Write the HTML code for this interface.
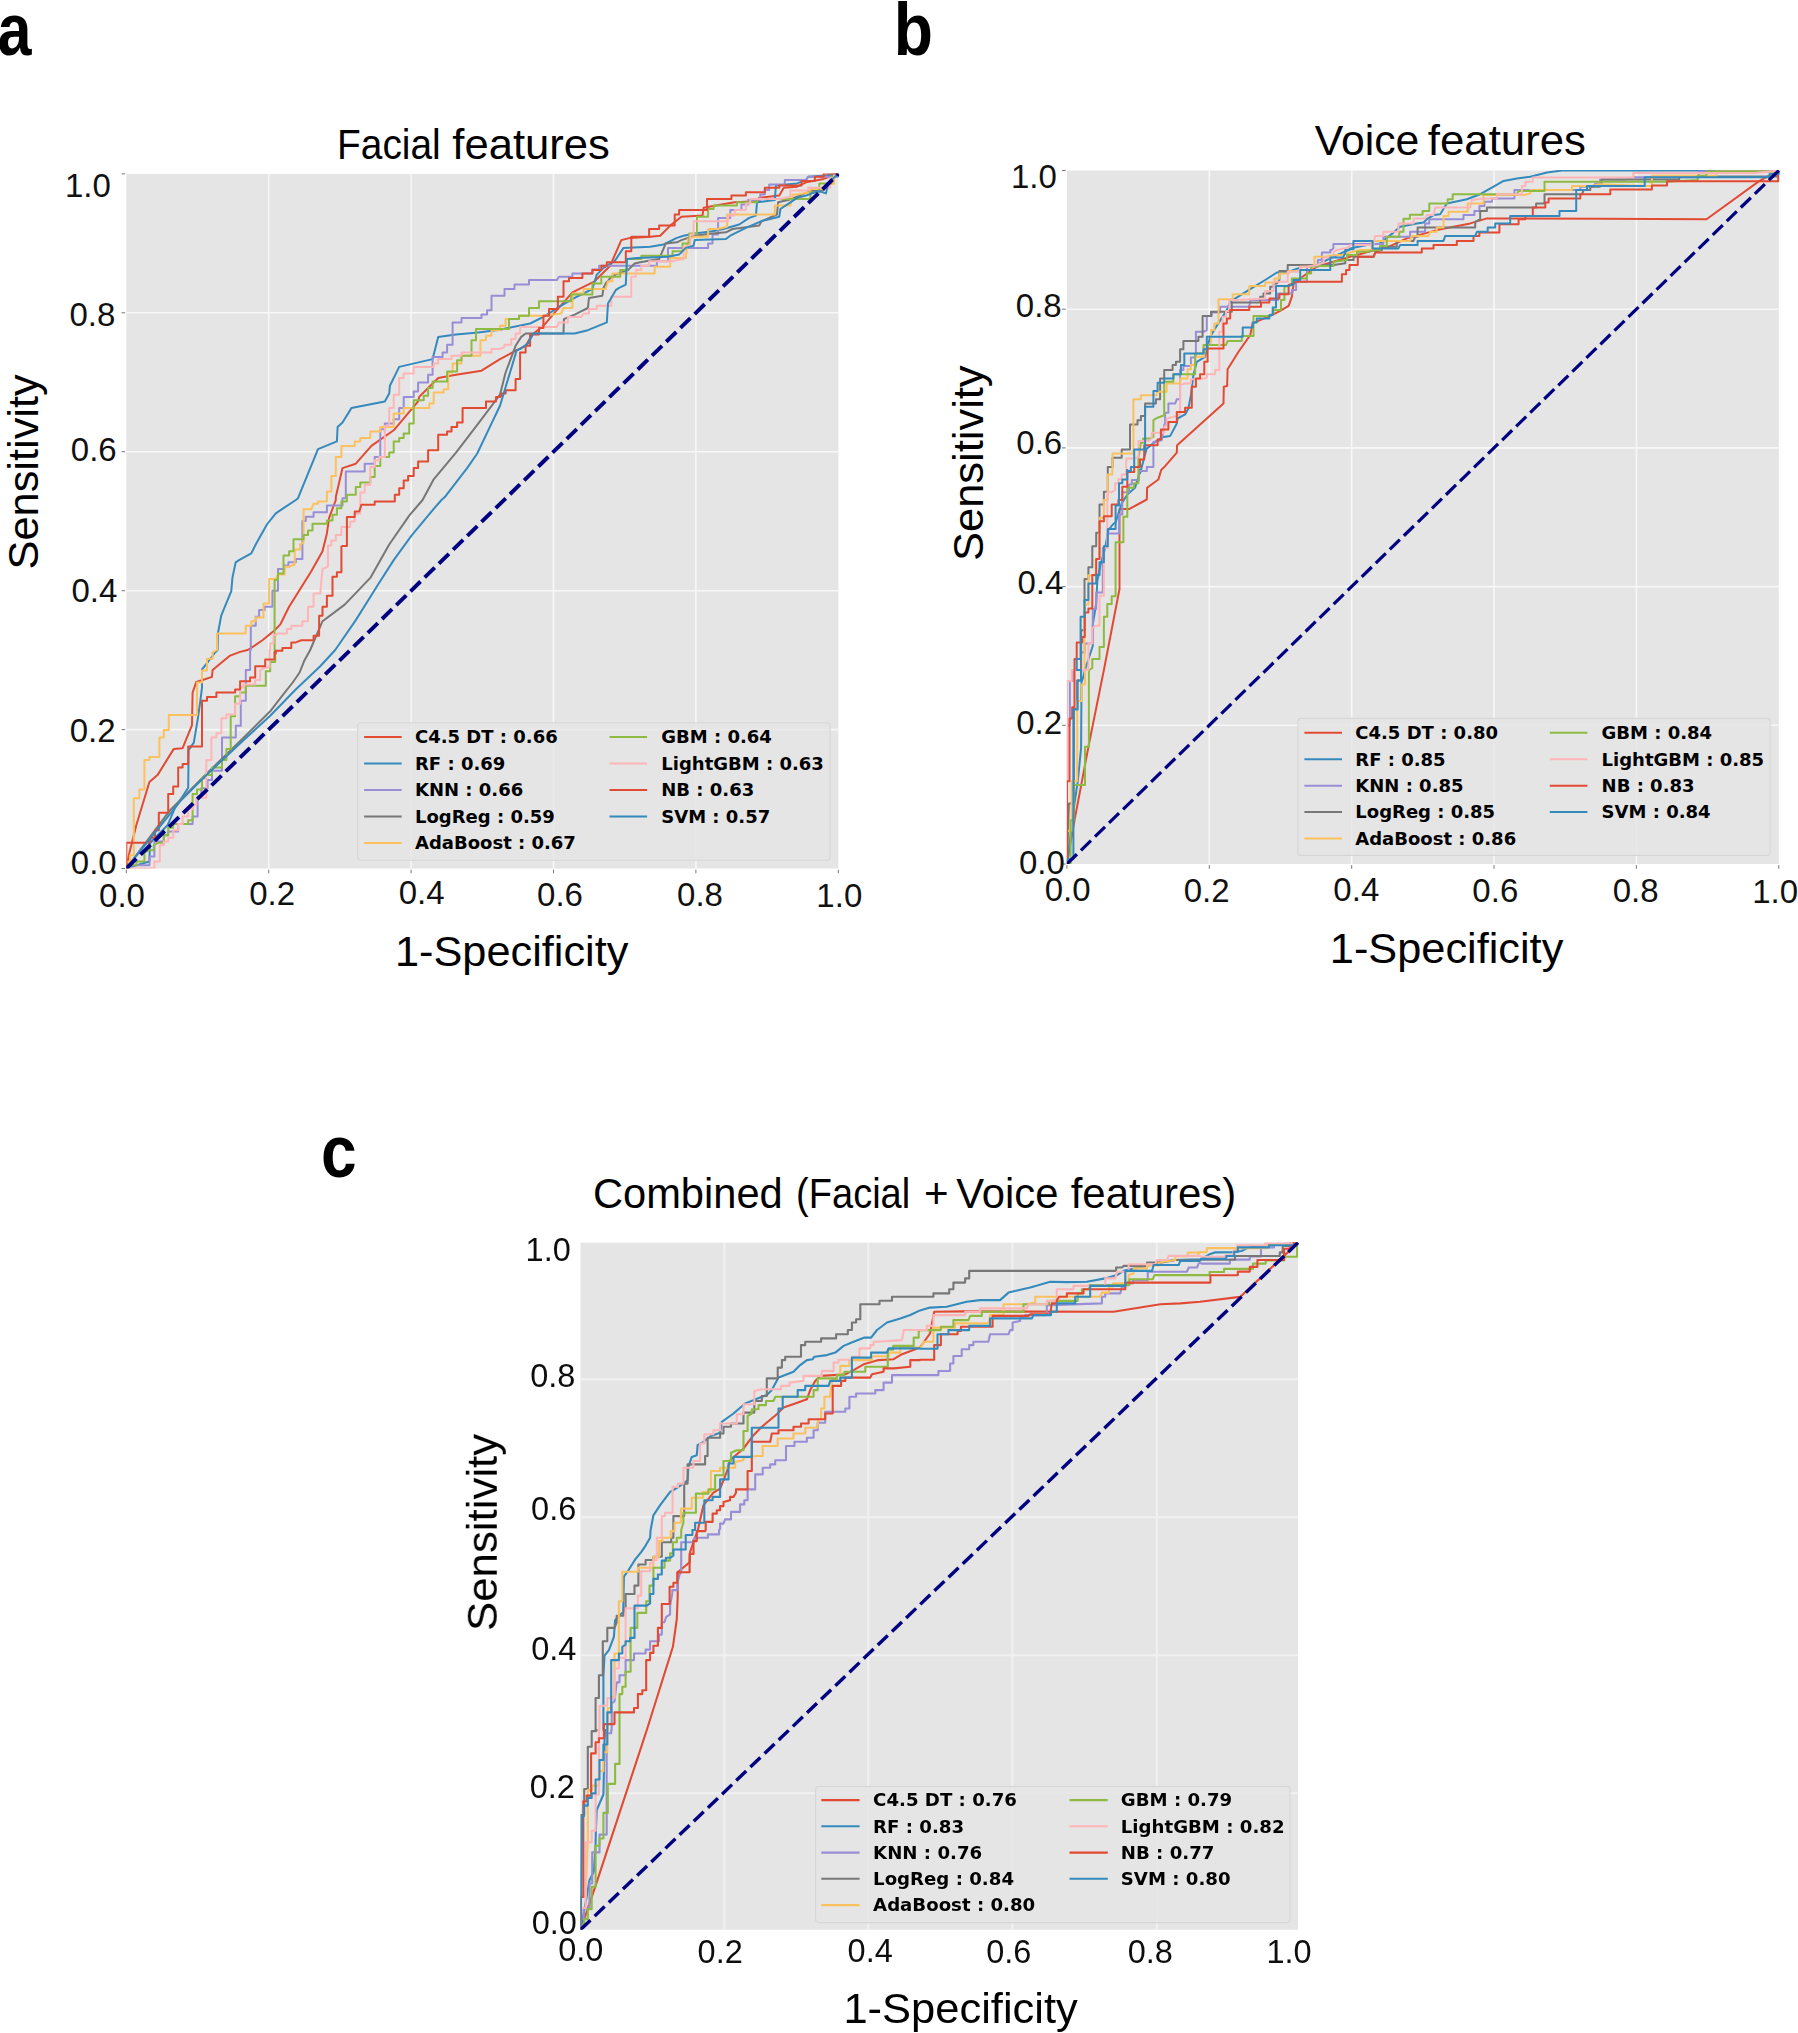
<!DOCTYPE html>
<html lang="en"><head><meta charset="utf-8"><title>ROC curves: facial, voice and combined features</title>
<style>html,body{margin:0;padding:0;background:#fff}body{width:1798px;height:2033px;overflow:hidden}svg{display:block}</style>
</head><body>
<svg width="1798" height="2033" viewBox="0 0 1798 2033">
<defs>
<clipPath id="cpa"><rect x="126.3" y="173.5" width="713" height="695"/></clipPath>
<clipPath id="cpb"><rect x="1066.9" y="170.1" width="712.9" height="693.9"/></clipPath>
<clipPath id="cpc"><rect x="580.5" y="1242.3" width="718.5" height="687.4"/></clipPath>
<filter id="soft" filterUnits="userSpaceOnUse" x="430" y="1215" width="920" height="818"><feGaussianBlur stdDeviation="0.55"/></filter>
</defs>
<rect width="1798" height="2033" fill="#fff"/>
<g id="panel-a">
<rect x="126.3" y="173.9" width="712" height="694.6" fill="#E5E5E5"/>
<path d="M268.7 173.9V868.5 M411.1 173.9V868.5 M553.5 173.9V868.5 M695.9 173.9V868.5 M126.3 729.6H838.3 M126.3 590.7H838.3 M126.3 451.7H838.3 M126.3 312.8H838.3" stroke="#f7f7f7" stroke-width="1.6" fill="none"/>
<path d="M126.3 869.7v3.6 M125.1 868.5h-3.6 M268.7 869.7v3.6 M125.1 729.6h-3.6 M411.1 869.7v3.6 M125.1 590.7h-3.6 M553.5 869.7v3.6 M125.1 451.7h-3.6 M695.9 869.7v3.6 M125.1 312.8h-3.6 M838.3 869.7v3.6 M125.1 173.9h-3.6" stroke="#777" stroke-width="1" fill="none"/>
<g clip-path="url(#cpa)" fill="none" stroke-linejoin="round" stroke-linecap="butt" stroke-width="2">
<path d="M126.3,868.4 129.4,852.7 136.3,825.2 149.4,782 157.5,775.1 173.8,748.9 182.6,748.2 192,725.1 192.6,692.5 196.3,681.9 202.6,680 212,676.9 212.6,670 220.1,663.8 230.1,655.6 240.1,651.9 247.6,650 251.3,647.9 262.4,640.2 273.5,631.3 280.2,624.6 289.1,606.8 300.2,589 311.3,571.2 322.5,551.2 326.9,533.4 329.1,517.8 335.8,500 335.8,497.1 342.5,468.1 355.8,463.7 371.4,445.9 393.7,430.3 418.1,401.4 419.2,396.9 438.2,378 456,374.7 481.5,370.7 500,359.1 516.7,350.2 525.6,345.8 532.3,334.6 543.4,325.8 556.8,310.2 572.4,292.4 594.6,281.3 610.2,265.7 621.3,240.1 630.2,237.9 650.2,236.8 660.2,235.7 670.2,225.6 681.4,216.7 702.5,215.6 703.6,207.8 721.4,204.5 734.8,202.3 757,201.2 759.2,197.8 779.3,195.6 783.7,187.8 797.1,186.7 806,182.3 823.7,178.9 838.2,173.4" stroke="#E24A33"/>
<path d="M126.3,868.4 145,862.7 149.4,861.5 150,843.3 157.5,835.2 167.6,825.2 175.1,807.7 188.2,787.7 188.6,750.1 193.8,742.6 197.6,720.1 200.1,702.6 202,687.5 202,669.4 207.6,662.5 215.1,652.5 217.6,650 217.9,633.5 221.2,615.7 225.7,604.6 231.3,591.2 232.4,577.9 235.7,562.3 239,560.1 251.3,553.4 255.7,544.5 266.9,524.5 275.8,513.3 282.4,508.9 295.8,500 298,498.2 318,449.2 336.9,441.4 337.6,427 342.5,422.5 351.4,408.1 384.8,401.4 389.2,393.6 389.9,385.8 399.2,366.9 432.6,359.1 438.2,336.9 456,334.6 478.2,332.4 500,329.8 507.8,328 530.1,323.5 543.4,316.9 561.2,305.7 574.6,297.9 592.4,289 596.8,274.6 603.5,267.9 614.6,261.2 623.5,247.9 650.2,246.8 663.6,244.5 676.9,237.9 683.6,235.7 694.7,233.4 712.5,231.2 723.6,229 739.2,224.5 749.2,217.9 755.9,215.6 757,202.3 774.8,200.1 775.9,185.6 797.1,183.4 806,180 808.2,176.7 826,175.6 838.2,173.4" stroke="#348ABD"/>
<path d="M126.3,868.4 126.3,865.2 136.3,865.2 149.4,865.2 149.4,856.5 154.4,856.5 154.4,841.5 163.8,841.5 163.8,835.2 168.2,835.2 168.2,831.5 178.2,831.5 178.2,823.9 192.6,823.9 192.6,816.4 197.6,816.4 197.6,805.2 197.6,796.4 201.3,796.4 201.3,788.3 204.5,788.3 207.6,788.3 207.6,780.1 212,780.1 212,770.8 222,770.8 222,737.6 235.8,737.6 235.8,725.7 240.8,725.7 240.8,700.7 245.8,700.7 245.8,670 250.1,670 250.1,650 250.8,649.9 250.8,625.7 255.7,625.7 255.7,616.8 259.1,616.8 259.1,610.1 264.6,610.1 264.6,606.8 272.4,606.8 272.4,590.7 275.2,590.7 278,590.7 278,574.5 278,569 284.6,569 284.6,565.6 288.4,565.6 288.4,562.3 292.1,562.3 295.8,562.3 295.8,559 302.4,559 302.4,552.3 302.4,521.1 305.8,521.1 305.8,516.7 313.6,516.7 313.6,512.2 326.9,512.2 326.9,505.6 342.5,505.6 342.5,500 342.5,498.2 345.8,498.2 345.8,471.5 364.7,471.5 364.7,463.7 374.7,463.7 374.7,457 380.3,457 380.3,429.2 384.8,429.2 384.8,423.6 393.7,423.6 393.7,419.2 396.4,419.2 399.2,419.2 399.2,414.7 399.2,408.1 403.7,408.1 403.7,396.9 413.7,396.9 413.7,391.4 418.1,391.4 418.1,382.5 428.1,382.5 428.1,374.7 432.6,374.7 432.6,356.9 442.6,356.9 442.6,352.4 447.1,352.4 447.1,344.7 452.6,344.7 452.6,322.4 461.5,322.4 461.5,318 481.5,318 481.5,314.6 487.1,314.6 487.1,310.2 491.5,310.2 491.5,295.7 500,295.7 504.5,295.7 504.5,289 514.5,289 514.5,284.6 529,284.6 529,280.1 556.8,280.1 559,276.8 572.4,276.8 572.4,273.5 592.4,273.5 592.4,269.6 599.1,269.6 599.1,265.7 605.7,265.7 656.9,265.7 656.9,261.2 668,261.2 668,247.9 681.4,247.9 708.1,247.9 708.1,243.4 712.5,243.4 712.5,234.5 718.1,234.5 718.1,217.9 730.3,217.9 730.3,210.1 741.4,210.1 741.4,204.5 748.1,204.5 748.1,200.1 760.3,200.1 760.3,194.5 764.8,194.5 764.8,190 769.2,190 769.2,184.5 784.8,184.5 784.8,180 806,180 808.2,176.7 819.3,176.7 838.2,176.7 838.2,173.4" stroke="#988ED5"/>
<path d="M126.3,868.4 170.1,810.2 207.6,772.6 245.1,736.3 270.2,711.3 282.7,695.1 292.7,682.5 299.6,672.5 304,661.3 310.2,650 322.5,621.2 344.7,604.6 370.3,577.9 389.2,544.5 409.2,515.6 422.6,500 433.7,479.3 456,452.6 478.2,423.6 500,394.7 505.6,372.5 515.6,345.8 521.2,336.9 525.6,333.5 563.5,333.5 563.9,319.1 574.6,314.6 587.9,308 589,297.9 602.4,295.7 603.5,287.9 605.7,283.5 612.4,275.7 628,270.1 634.6,263.5 640.2,262.3 659.1,259 665.8,243.4 676.9,242.3 681.4,240.1 694.7,235.7 712.5,233.4 725.9,232.3 732.5,229 759.2,225.6 761.5,221.2 777,214.5 778.1,202.3 788.2,200.1 810.4,191.2 823.7,190 838.2,173.4" stroke="#777777"/>
<path d="M126.3,868.4 126.3,861.8 130,861.8 130,855.2 133.8,855.2 133.8,798.3 139.4,798.3 139.4,789.5 144.4,789.5 144.4,760.1 149.4,760.1 149.4,757 159.4,757 159.4,737.6 163.8,737.6 163.8,730.1 168.8,730.1 168.8,715.1 197,715.1 197,682.5 202,682.5 202,670.6 207,670.6 207,658.8 212.6,658.8 212.6,652.5 217,650 217,633.5 245.7,633.5 245.7,625.7 251.3,625.7 251.3,621.2 255.7,621.2 255.7,617.5 263.5,617.5 263.5,603.4 269.1,603.4 269.1,579 275.8,579 278,574.5 284.6,574.5 284.6,571.2 284.6,566.7 289.1,566.7 294.7,564.5 294.7,554.5 294.7,549.5 297.4,549.5 300.2,549.5 300.2,544.5 303.6,542.3 303.6,508.9 303.6,509.3 311.3,509.3 313.6,503.7 318,503.7 318,501.5 326.9,501.5 326.9,491.5 331.4,491.5 331.4,475.9 335.8,475.9 335.8,457 341.4,457 341.4,445.9 354.7,445.9 354.7,441.4 360.3,441.4 360.3,438.1 370.3,438.1 370.3,431.4 380.3,431.4 380.3,427 393.7,427 393.7,413.6 403.7,413.6 403.7,408.1 429.3,408.1 429.3,403.6 433.7,403.6 433.7,392.5 443.7,392.5 443.7,389.2 448.2,389.2 448.2,372.5 452.6,372.5 452.6,363.6 461.5,363.6 461.5,355.8 480.4,355.8 480.4,340.2 486,340.2 486,335.8 491.5,335.8 491.5,330.2 500,330.2 500,325.8 505.6,325.8 505.6,319.1 519,319.1 519,315.7 529,315.7 543.4,315.7 561.2,313.5 563.5,308 572.4,308 572.4,293.5 583.5,293.5 583.5,289 605.7,289 608,281.3 612.4,281.3 612.4,273.5 639.1,273.5 654.7,273.5 654.7,266.8 670.2,266.8 670.2,257.9 685.8,257.9 688,239 694.7,236.8 708.1,236.8 708.1,229 718.1,229 727,226.8 727,214.5 743.7,214.5 774.8,214.5 774.8,205.6 790.4,205.6 792.6,194.5 797.1,194.5 810.4,192.3 810.4,188.9 826,188.9 826,183.7 830.1,183.7 834.1,183.7 834.1,178.6 834.1,173.4 838.2,173.4" stroke="#FBC15E"/>
<path d="M126.3,868.4 126.3,865.2 132.5,865.2 136.3,865.2 136.3,861.5 144.4,861.5 144.4,852.7 149.4,850.2 153.8,850.2 153.8,845.2 158.8,842.7 163.8,842.7 163.8,835.2 168.2,835.2 168.2,827.7 173.2,827.7 173.2,823.9 177.6,823.9 184.4,823.9 188.2,823.9 188.2,820.2 192.6,820.2 192.6,793.9 197,793.9 197,789.5 202,789.5 202,781.4 202,778.3 204.8,778.3 204.8,775.1 207.6,775.1 212,775.1 212,767.6 222,767.6 222,760.1 226.4,760.1 226.4,748.9 230.7,748.9 230.7,716.3 235.1,716.3 235.1,696.3 240.1,696.3 240.1,692.5 245.8,692.5 245.8,685.7 265.8,685.7 265.8,671.3 270.2,671.3 270.2,661.9 275.2,661.9 275.2,650 274.6,649.9 274.6,580.1 278,580.1 278,573.4 283.5,573.4 283.5,555.6 289.1,555.6 289.1,551.2 293.5,551.2 293.5,540 293.5,539.3 303.6,539.3 303.6,534.9 308,534.9 308,530.4 312.5,530.4 312.5,523.7 326.9,523.7 326.9,520.4 332.5,520.4 332.5,514.8 336.9,514.8 336.9,508.2 341.4,508.2 341.4,501.5 346.9,501.5 346.9,494.8 355.8,494.8 355.8,487 360.3,487 360.3,482.6 370.3,482.6 370.3,477 374.7,477 374.7,465.9 380.3,465.9 380.3,457 389.2,457 389.2,452.6 393.7,452.6 393.7,441.4 399.2,441.4 399.2,438.1 403.7,438.1 403.7,433.6 409.2,433.6 409.2,423.6 413.7,423.6 413.7,400.3 423.7,400.3 423.7,395.8 428.1,395.8 428.1,388 432.6,388 432.6,381.4 443.7,381.4 447.1,381.4 447.1,371.4 457.1,371.4 457.1,360.2 461.5,360.2 461.5,355.8 471.5,355.8 471.5,340.2 476,340.2 476,329.1 500,329.1 509,329.1 509,319.1 519,319.1 519,315.7 529,315.7 529,308 539,308 539,301.3 571.2,301.3 571.2,294.6 592.4,294.6 592.4,283.5 601.3,283.5 601.3,276.8 620.2,276.8 620.2,270.1 626.9,270.1 626.9,259 641.3,259 641.3,255.7 672.5,255.7 672.5,251.2 682.5,251.2 682.5,243.4 689.2,243.4 689.2,233.4 696.9,233.4 696.9,216.7 708.1,216.7 708.1,209 713.6,209 713.6,205.6 737,205.6 737,202.3 757,202.3 757,198.9 810.4,198.9 810.4,192.3 819.3,192.3 819.3,183.4 828.2,183.4 831.5,183.4 831.5,180 831.5,176.7 834.9,176.7 834.9,173.4 838.2,173.4" stroke="#8EBA42"/>
<path d="M126.3,868.4 154.4,868.4 154.4,861.5 159.8,861.5 159.8,845.2 163.8,845.2 163.8,841.5 168.2,841.5 168.2,837.7 173.2,837.7 173.2,834 173.2,830.2 178.2,830.2 178.2,823.9 182.6,823.9 182.6,816.4 188.2,816.4 188.2,808.9 192.6,808.9 192.6,805.2 196.3,805.2 196.3,797.7 201.3,797.7 206.3,797.7 206.3,787 206.3,760.1 211.4,760.1 211.4,737.6 216.4,737.6 216.4,733.2 221.4,733.2 221.4,718.2 226.4,718.2 226.4,714.4 235.1,714.4 235.1,703.8 240.1,703.8 240.1,691.3 240.1,687.5 243.3,687.5 243.3,684.4 255.2,684.4 255.2,680 260.2,680 260.2,676.9 260.2,670 265.2,667.5 269.5,667.5 269.5,650 270.2,649.9 270.2,643.5 273.5,643.5 273.5,635.7 278,633.5 286.9,633.5 286.9,629 291.3,629 291.3,625.7 294.7,625.7 302.4,625.7 302.4,621.2 308,621.2 308,606.8 313.6,606.8 313.6,593.4 320.2,593.4 322.5,569 328,566.7 328,545.6 331.4,545.6 331.4,541.2 331.4,540.4 335.8,540.4 335.8,534.9 341.4,534.9 341.4,527.1 350.3,527.1 350.3,521.5 354.7,521.5 354.7,513.7 360.3,513.7 360.3,492.6 364.7,492.6 364.7,484.8 370.3,484.8 370.3,467 374.7,467 374.7,460.3 379.2,460.3 379.2,457 384.8,457 384.8,425.9 389.2,425.9 389.2,408.1 393.7,408.1 393.7,394.7 399.2,394.7 399.2,378 403.7,378 403.7,373.6 413.7,373.6 413.7,366.9 433.7,366.9 433.7,363.6 438.2,363.6 438.2,359.1 451.5,359.1 451.5,355.8 461.5,355.8 461.5,352.4 491.5,352.4 491.5,349.1 500,349.1 504.5,346.9 504.5,344.7 511.2,344.7 511.2,339.1 515.6,339.1 515.6,333.5 520.1,333.5 520.1,326.9 556.8,326.9 559,322.4 567.9,322.4 567.9,316.9 581.3,316.9 583.5,313.5 589,313.5 589,309.1 596.8,309.1 596.8,305.7 611.3,305.7 611.3,296.8 631.3,296.8 631.3,276.8 635.8,276.8 635.8,270.1 641.3,270.1 641.3,265.7 649.1,265.7 649.1,261.2 670.2,261.2 683.6,259 683.6,246.8 690.3,246.8 690.3,234.5 693.6,234.5 693.6,221.2 717,221.2 728.1,221.2 728.1,215.6 734.8,215.6 734.8,210.1 745.9,210.1 745.9,203.4 750.3,203.4 750.3,198.9 779.3,198.9 790.4,196.7 790.4,193.4 790.4,190.6 808.2,190.6 808.2,187.8 826,187.8 830.1,187.8 830.1,183 830.1,178.2 834.1,178.2 834.1,173.4 838.2,173.4" stroke="#FFB5B8"/>
<path d="M126.3,868.4 126.3,842.7 130.6,842.7 149.4,842.7 151.3,837.7 155,837.7 155,834 155,830.2 158.8,830.2 158.8,812.7 168.2,812.7 168.2,793.9 173.2,793.9 173.2,786.4 178.2,786.4 178.2,767.6 182.6,767.6 182.6,763.9 188.2,763.9 188.2,746.4 202,746.4 202,700.7 207,700.7 207,696.9 216.4,696.9 216.4,692.5 235.1,692.5 235.1,689.4 240.1,689.4 240.1,681.3 245.1,681.3 250.1,681.3 250.1,677.5 255.2,677.5 255.2,666.3 265.2,666.3 265.2,659.4 274.5,659.4 274.5,651.9 275.8,653.5 275.8,650.7 279.1,650.7 282.4,650.7 282.4,647.9 291.3,647.9 291.3,642.4 295.8,642.4 301.3,640.2 313.6,640.2 313.6,635.7 319.1,635.7 319.1,620.1 319.1,615.7 322.5,615.7 322.5,606.8 326.9,606.8 326.9,595.7 332.5,595.7 332.5,576.8 336.9,576.8 336.9,572.3 341.4,572.3 341.4,546.7 342.5,546 346.9,546 346.9,517.1 354.7,517.1 354.7,511.5 359.2,511.5 361.4,504.8 374.7,504.8 374.7,501.5 394.8,501.5 394.8,494.8 399.2,494.8 399.2,488.2 403.7,488.2 403.7,480.4 408.1,480.4 408.1,475.9 413.7,475.9 413.7,468.1 418.1,468.1 418.1,461.5 428.1,461.5 428.1,450.3 438.2,450.3 438.2,434.8 447.1,434.8 447.1,431.4 451.5,431.4 451.5,427 457.1,427 457.1,422.5 462.6,422.5 462.6,408.1 486,408.1 486,401.4 496,401.4 496,396.9 500,396.9 501.2,395.8 501.2,393.6 505.6,393.6 505.6,390.3 515.6,390.3 515.6,379.1 520.1,379.1 520.1,352.4 525.6,352.4 525.6,345.8 530.1,345.8 530.1,334.6 539,334.6 539,328 543.4,328 543.4,315.7 549,315.7 549,309.1 557.9,309.1 557.9,296.8 563.5,296.8 563.5,281.3 569,281.3 569,277.9 582.4,277.9 582.4,273.5 592.4,273.5 592.4,270.1 601.3,270.1 601.3,265.7 606.8,265.7 606.8,262.3 625.8,262.3 625.8,251.2 631.3,251.2 631.3,236.8 649.1,236.8 649.1,229 659.1,229 659.1,225.6 670.2,225.6 674.7,225.6 674.7,220.1 674.7,214.5 679.1,214.5 679.1,210.1 683.6,210.1 707,210.1 707,198.9 731.4,198.9 731.4,195.6 745.9,195.6 745.9,192.3 764.8,192.3 764.8,187.8 779.3,187.8 779.3,185.6 797.1,185.6 801.5,185.6 801.5,181.1 814.8,181.1 814.8,176.7 823.7,176.7 823.7,173.4 838.2,173.4" stroke="#E24A33"/>
<path d="M126.3,868.4 180.1,801.4 207.6,773.9 245.1,738.8 270.2,715.7 295.2,690 320.2,666.3 335.2,650 355.8,620.1 378.1,584.5 393.7,560.1 411.5,535.6 433.7,508.9 441.5,500 444.8,497.1 467.1,468.1 477.1,453.7 489.3,428.1 500,405.8 516.7,350.2 520.1,349.1 527.9,343.5 533.4,333.5 574.6,333.5 587.9,330.2 606.8,322.4 608,303.5 615.7,290.2 619.1,287.9 625.8,284.6 626.9,259 636.9,257.9 668,256.8 679.1,254.6 685.8,247.9 693.6,245.7 694.7,240.1 725.9,239 730.3,235.7 745.9,227.9 761.5,221.2 779.3,216.7 780.4,209 790.4,202.3 797.1,197.8 806,195.6 814.8,192.3 819.3,191.2 826,193.4 828.2,183.4 838.2,173.4" stroke="#348ABD"/>
<path d="M126.3,868.5L838.3,173.9" stroke="#000080" stroke-width="3.9" stroke-dasharray="14 5.85"/>
</g>
<rect x="357.6" y="722.7" width="472.5" height="137.6" rx="3.5" fill="#E5E5E5" fill-opacity="0.8" stroke="#d6d6d6" stroke-width="1.1"/>
<g font-family="'DejaVu Sans', sans-serif" font-weight="bold" font-size="18.0" fill="#000">
<path d="M364.1 737.1h37.6" stroke="#E24A33" stroke-width="2" fill="none"/>
<text x="415" y="743.3">C4.5 DT : 0.66</text>
<path d="M364.1 763.6h37.6" stroke="#348ABD" stroke-width="2" fill="none"/>
<text x="415" y="769.8">RF : 0.69</text>
<path d="M364.1 790h37.6" stroke="#988ED5" stroke-width="2" fill="none"/>
<text x="415" y="796.2">KNN : 0.66</text>
<path d="M364.1 816.5h37.6" stroke="#777777" stroke-width="2" fill="none"/>
<text x="415" y="822.7">LogReg : 0.59</text>
<path d="M364.1 842.9h37.6" stroke="#FBC15E" stroke-width="2" fill="none"/>
<text x="415" y="849.1">AdaBoost : 0.67</text>
<path d="M609.5 737.1h37.6" stroke="#8EBA42" stroke-width="2" fill="none"/>
<text x="661.3" y="743.3">GBM : 0.64</text>
<path d="M609.5 763.6h37.6" stroke="#FFB5B8" stroke-width="2" fill="none"/>
<text x="661.3" y="769.8">LightGBM : 0.63</text>
<path d="M609.5 790h37.6" stroke="#E24A33" stroke-width="2" fill="none"/>
<text x="661.3" y="796.2">NB : 0.63</text>
<path d="M609.5 816.5h37.6" stroke="#348ABD" stroke-width="2" fill="none"/>
<text x="661.3" y="822.7">SVM : 0.57</text>
</g>
<g font-family="'Liberation Sans', sans-serif" font-size="33" fill="#111">
<text x="122" y="907.2" text-anchor="middle">0.0</text>
<text x="116.7" y="874.3" text-anchor="end">0.0</text>
<text x="272.1" y="905.2" text-anchor="middle">0.2</text>
<text x="115.6" y="742" text-anchor="end">0.2</text>
<text x="421.7" y="903.8" text-anchor="middle">0.4</text>
<text x="117.4" y="602.2" text-anchor="end">0.4</text>
<text x="560" y="905.6" text-anchor="middle">0.6</text>
<text x="116.7" y="461.2" text-anchor="end">0.6</text>
<text x="700" y="905.6" text-anchor="middle">0.8</text>
<text x="115.3" y="326.4" text-anchor="end">0.8</text>
<text x="839.3" y="906.7" text-anchor="middle">1.0</text>
<text x="110.9" y="197.2" text-anchor="end">1.0</text>
</g>
<text x="395" y="965.9" font-family="'Liberation Sans', sans-serif" font-size="42" textLength="233.3" lengthAdjust="spacingAndGlyphs" fill="#000">1-Specificity</text>
<text transform="translate(37.7,569.5) rotate(-90)" font-family="'Liberation Sans', sans-serif" font-size="42" textLength="195.2" lengthAdjust="spacingAndGlyphs" fill="#000">Sensitivity</text>
<g font-family="'Liberation Sans', sans-serif" font-size="42" fill="#000">
<text x="337.1" y="158.5" textLength="103.6" lengthAdjust="spacingAndGlyphs">Facial</text>
<text x="452.3" y="158.5" textLength="157.6" lengthAdjust="spacingAndGlyphs">features</text>
</g>
<text x="-2.5" y="55.3" font-family="'Liberation Sans', sans-serif" font-size="74" font-weight="bold" textLength="34" lengthAdjust="spacingAndGlyphs" fill="#000">a</text>
</g>
<g id="panel-b">
<rect x="1066.9" y="170.5" width="711.9" height="693.5" fill="#E5E5E5"/>
<path d="M1209.3 170.5V864.0 M1351.7 170.5V864.0 M1494 170.5V864.0 M1636.4 170.5V864.0 M1066.9 725.3H1778.8 M1066.9 586.6H1778.8 M1066.9 447.9H1778.8 M1066.9 309.2H1778.8" stroke="#f7f7f7" stroke-width="1.6" fill="none"/>
<path d="M1066.9 865.2v3.6 M1065.7 864h-3.6 M1209.3 865.2v3.6 M1065.7 725.3h-3.6 M1351.7 865.2v3.6 M1065.7 586.6h-3.6 M1494 865.2v3.6 M1065.7 447.9h-3.6 M1636.4 865.2v3.6 M1065.7 309.2h-3.6 M1778.8 865.2v3.6 M1065.7 170.5h-3.6" stroke="#777" stroke-width="1" fill="none"/>
<g clip-path="url(#cpb)" fill="none" stroke-linejoin="round" stroke-linecap="butt" stroke-width="2">
<path d="M1067,864.1 1073.9,823.5 1089.5,741.2 1103.9,670 1119.5,589 1119.5,508.9 1129.5,508.9 1146.8,499.5 1147.1,487.8 1158.4,479.5 1161.2,470 1165.1,466.1 1176.8,452.7 1177.1,445.2 1206.8,418.5 1223.5,403.5 1223.8,386.8 1227.1,386 1227.6,369.3 1238.5,351.8 1250.2,335.1 1252.7,323.4 1260.2,320.1 1271.9,315.1 1280.2,310.9 1288.6,305.9 1291.9,296.7 1293.6,283.4 1300,278.5 1316.7,266.8 1350.1,256.8 1375.1,250.1 1388.4,246.8 1406.8,238.4 1436.8,230.1 1470.2,223.4 1486.9,218.4 1600,218.7 1706.5,219.2 1759.5,180.9 1778.8,170.5" stroke="#E24A33"/>
<path d="M1067,864.1 1070.6,834.6 1074.5,803.5 1077.8,781.2 1081.1,747.9 1081.5,682.2 1083.4,676.7 1085,670 1085,670 1092.8,645.8 1092.8,624.6 1096.2,603.5 1097.3,581.2 1100.6,564.5 1105.1,547.9 1108.4,530.1 1112.8,524.5 1115.6,522.3 1121.7,503.4 1127.3,494.5 1135.1,487.8 1138.4,476.7 1139.5,470 1140,473.6 1146.7,448.6 1155.1,441.9 1163.4,436.9 1170.1,436.1 1176.8,423.5 1177.6,418.5 1185.1,414.4 1188.4,408.5 1190.9,395.2 1193.4,375.1 1196.8,361.8 1205.1,356.8 1210.1,336.8 1215.1,328.4 1226.8,310.1 1230.2,301.7 1250.2,289.2 1265.2,280 1276.9,272.5 1288.6,271.7 1305.2,265.9 1316.9,265 1333.6,256.7 1348.6,250 1350.1,248.4 1366.7,245.1 1380.1,243.4 1393.4,232.6 1400.1,226.8 1416.8,223.4 1423.5,222.6 1426.8,219.2 1433.5,215.1 1440.2,214.2 1446.8,203.4 1466.9,199.2 1480.2,194.2 1493.6,186.7 1503.6,180.9 1516.9,178.4 1530.3,176.7 1547,172.5 1562,170.5 1600,170.5 1600.3,170.5 1778.8,170.5" stroke="#348ABD"/>
<path d="M1067,864.1 1067,781.2 1067,725.6 1069.9,725.6 1069.9,703.4 1069.9,681.1 1072.8,681.1 1072.8,670 1077.2,670 1077.2,670 1081,670 1081,661.2 1081,652.4 1084.7,652.4 1084.7,643.5 1088.4,643.5 1092.8,643.5 1092.8,625.7 1092.8,609 1096.2,609 1096.2,592.4 1099.5,592.4 1102.8,592.4 1102.8,586.8 1102.8,547.9 1107.3,547.9 1107.3,533.4 1111.7,533.4 1119,533.4 1119,529 1119,521.2 1119,514.5 1122.3,514.5 1122.3,503.4 1122.3,492.2 1126.2,492.2 1129,492.2 1129,488.4 1129,484.5 1131.8,484.5 1131.8,480 1136.2,480 1139,480 1139,475.6 1139,471.1 1141.8,471.1 1146.8,471.1 1146.8,466.9 1153.4,466.9 1153.4,441.9 1161.7,440.2 1164.2,425.2 1165.1,423.5 1165.1,412.7 1168.4,412.7 1168.4,403.5 1175.1,403.5 1176.8,399.3 1180.1,399.3 1180.1,370.1 1183.4,370.1 1183.4,366 1190.9,366 1190.9,357.6 1195.9,357.6 1195.9,331.8 1203.5,331.8 1206.8,330.1 1206.8,315.9 1211.8,315.9 1211.8,312.6 1220.1,312.6 1220.1,306.7 1248.5,306.7 1250.2,303.4 1250.2,300.1 1264.1,300.1 1278,300.1 1278,296.7 1278,293.4 1291.9,293.4 1291.9,290 1296.1,290 1296.1,281.7 1306.9,281.7 1306.9,271.7 1306.9,266.7 1313.6,266.7 1317.8,266.7 1317.8,263.3 1317.8,260 1321.9,260 1321.9,252.5 1330.3,252.5 1330.3,250 1331.7,249.9 1333.4,248.1 1333.4,244.1 1358.4,244.1 1383.4,244.1 1383.4,240.1 1383.4,236.8 1400.1,236.8 1410.1,236.8 1410.1,231.8 1425.1,231.8 1425.1,223.4 1429.3,223.4 1429.3,219.2 1463.5,219.2 1463.5,215.1 1474.4,215.1 1474.4,210.9 1479.4,210.9 1479.4,205.9 1484.4,205.9 1484.4,201.7 1491.9,201.7 1491.9,198.4 1510.2,198.4 1514.4,198.4 1514.4,190 1518.6,190 1573.7,190 1580.3,190 1580.3,186.7 1593.7,186.7 1595.3,183.4 1600,183.4 1600,179.4 1626.1,179.4 1634.7,177.3 1670.6,177.3 1698.6,177.3 1698.6,174.4 1698.6,171.5 1726.5,171.5 1778.8,171.5" stroke="#988ED5"/>
<path d="M1067,864.1 1068.9,803.5 1073.9,803.5 1073.9,759 1073.9,708.9 1077.2,708.9 1077.2,680.6 1081.1,680.6 1081.1,670 1081.1,670 1081.1,659.1 1081.1,630.2 1084.5,630.2 1084.5,599.6 1084.5,579 1088.4,579 1088.4,567.3 1092.3,567.3 1092.3,546.2 1096.2,546.2 1096.2,532.8 1099.5,532.8 1099.5,504.5 1103.9,504.5 1103.9,491.7 1107.8,491.7 1107.8,470 1107.8,466.9 1112.5,466.9 1112.5,457.7 1121.7,457.7 1121.7,449.4 1130,449.4 1130,424.4 1137.5,424.4 1137.5,420.2 1140.9,420.2 1140.9,416 1145.1,416 1145.1,403.5 1155.9,403.5 1155.9,399.3 1160.1,399.3 1160.1,378.5 1164.2,378.5 1164.2,370.1 1172.6,370.1 1172.6,365.1 1175.9,365.1 1175.9,361.8 1180.1,361.8 1180.1,349.3 1183.4,349.3 1183.4,340.9 1198.4,340.9 1198.4,336.8 1202.6,336.8 1202.6,315.9 1211,315.9 1211,311.7 1226.8,311.7 1231.8,311.7 1231.8,302.6 1260.2,302.6 1260.2,300.1 1260.2,296.7 1263.5,296.7 1263.5,293.4 1266.9,293.4 1270.2,293.4 1270.2,290 1270.2,286.7 1273.5,286.7 1273.5,283.4 1276.9,283.4 1279.4,280 1279.4,270.9 1287.7,270.9 1287.7,265 1306.1,265 1333.6,265 1345.3,263.3 1345.3,260 1353.6,260 1353.6,256.7 1373.7,256.7 1375.3,251.7 1382,250 1380.1,250.1 1380.1,246.8 1396.8,246.8 1396.8,240.9 1400.1,240.9 1413.5,240.9 1415.1,236.8 1417.6,236.8 1417.6,227.6 1471.9,227.6 1475.2,227.6 1475.2,221.8 1480.2,219.2 1480.2,210.9 1486.9,210.9 1486.9,207.6 1536.1,207.6 1536.1,203.4 1544.5,203.4 1544.5,194.2 1582,194.2 1583.7,190 1590.3,190 1590.3,186.7 1600,186.7 1601.7,184.4 1601.7,182.3 1601.7,179.4 1679.2,179.4 1679.2,176.5 1776.8,176.5 1778.8,170.5" stroke="#777777"/>
<path d="M1067,864.1 1067,830.7 1071.7,830.7 1071.7,781.2 1074.5,781.2 1077.2,781.2 1077.2,710 1077.2,701.1 1081.7,701.1 1081.7,684.5 1085,684.5 1085,670 1084.5,670 1084.5,604.6 1088.4,604.6 1088.4,583.5 1088.4,575.3 1092.1,575.3 1095.8,575.3 1095.8,567.1 1095.8,559 1099.5,559 1099.5,517.8 1103.9,517.8 1103.9,500 1107.8,500 1107.8,474.4 1112.3,474.4 1112.3,470 1112.5,469.9 1112.5,453.6 1133.4,453.6 1133.4,399.3 1140.9,399.3 1140.9,395.2 1156.7,395.2 1156.7,391.8 1166.7,391.8 1166.7,383.5 1180.1,383.5 1180.1,378.5 1187.6,378.5 1187.6,369.3 1190.9,369.3 1190.9,365.1 1195.1,365.1 1195.1,356.8 1204.3,356.8 1204.3,345.1 1211,345.1 1211,330.1 1214.3,330.1 1214.3,323.4 1218.5,323.4 1218.5,299.2 1232.7,299.2 1232.7,294.2 1249.3,294.2 1249.3,285.9 1265.2,285.9 1265.2,282.5 1274.4,282.5 1274.4,278.4 1279.4,278.4 1279.4,273.4 1288.6,273.4 1288.6,270.9 1300.2,270.9 1300.2,266.7 1306.9,266.7 1314.4,266.7 1314.4,256.7 1325.3,256.7 1333.6,255 1341.9,255 1350.3,252.5 1360.3,250 1360.1,249.9 1371.8,249.9 1371.8,245.9 1371.8,240.9 1386.8,240.9 1400.1,240.9 1410.1,240.9 1411.8,235.9 1428.5,235.9 1430.2,231.8 1436.8,231.8 1436.8,227.6 1443.5,227.6 1443.5,215.9 1448.5,215.9 1448.5,211.7 1467.7,211.7 1467.7,203.4 1483.5,203.4 1483.5,195.1 1523.6,195.1 1530.3,193.4 1530.3,190 1572,190 1572,185.9 1590.3,185.9 1600,184.2 1646.2,185.9 1651.9,185.9 1651.9,180.1 1651.9,175.8 1716.5,175.8 1716.5,171.5 1729.4,171.5 1778.8,171.5" stroke="#FBC15E"/>
<path d="M1067,864.1 1070.6,864.1 1070.6,859.1 1070.6,825.7 1070.6,820.2 1073.9,820.2 1073.9,785.1 1085,785.1 1085,746.8 1088.9,746.8 1088.9,670 1089.3,670 1092.3,668 1092.3,659.1 1099.5,659.1 1099.5,646.9 1103.9,646.9 1103.9,616.8 1107.3,616.8 1107.3,604 1111.7,604 1111.7,596.3 1115.6,596.3 1115.6,542.3 1123.4,542.3 1123.4,516.7 1127.3,516.7 1127.3,487.8 1134,487.8 1134,483.3 1138.4,483.3 1138.4,470 1138.4,458.6 1140.9,442.7 1143.1,442.7 1143.1,438.6 1150.1,438.6 1153.4,436.9 1153.4,420.2 1157.6,417.7 1164.2,415.2 1164.2,381.8 1173.4,381.8 1173.4,378.5 1173.4,374.3 1176.8,374.3 1195.1,374.3 1195.1,353.5 1203.5,353.5 1203.5,345.1 1226,345.1 1227.6,340.9 1241.8,340.9 1241.8,335.9 1246.8,335.9 1253.5,335.9 1253.5,315.9 1270.2,315.9 1273.5,313.4 1273.5,310.1 1281,310.1 1281,306.7 1281,300.1 1284.4,300.1 1284.4,286.7 1291.9,285 1291.9,278.4 1296.9,278.4 1306.9,278.4 1306.9,273.4 1311.1,273.4 1311.1,270 1311.1,265.9 1323.6,265.9 1333.6,265.9 1333.6,261.7 1347,260 1347,255 1357,255 1357,251.7 1367,251.7 1375.3,250 1376.8,250.1 1380.1,250.1 1380.1,245.9 1386.8,245.9 1386.8,236.8 1399.3,236.8 1399.3,231.8 1403.5,231.8 1403.5,222.6 1403.5,218.7 1409.9,218.7 1409.9,214.8 1416.2,214.8 1422.6,214.8 1422.6,210.9 1429.3,210.9 1429.3,203.4 1447.7,203.4 1447.7,199.2 1452.7,199.2 1452.7,194.2 1494.4,194.2 1516.9,194.2 1518.6,190.9 1544.5,190.9 1544.5,181.7 1600,181.7 1666.3,181.7 1697.8,180.1 1697.8,175.8 1706.5,175.8 1706.5,171.5 1755.2,171.5 1778.8,171.5" stroke="#8EBA42"/>
<path d="M1067,864.1 1067,848 1067,681.1 1071.7,681.1 1071.7,670 1072.2,670 1088.4,670 1088.4,643.5 1092.3,643.5 1092.3,628 1096.2,625.7 1099.5,625.7 1099.5,619.1 1099.5,595.7 1103.9,595.7 1103.9,563.4 1103.9,547.9 1107.3,547.9 1107.3,496.7 1107.3,492.2 1111.7,492.2 1115.1,490 1115.1,483.3 1118.4,483.3 1118.4,478.9 1121.7,478.9 1121.7,474.4 1126.2,474.4 1126.2,470 1126.2,458.6 1133.4,458.6 1138.4,456.9 1138.4,441.1 1148.4,441.1 1151.7,438.6 1151.7,432.7 1160.1,432.7 1164.2,432.7 1164.2,426.9 1166.7,425.2 1166.7,418.5 1173.4,416.9 1178.4,415.2 1180.1,414.4 1180.1,385.2 1185.1,383.5 1190.9,383.5 1190.9,379.3 1200.1,379.3 1206.8,377.6 1206.8,374.3 1215.1,374.3 1215.1,370.1 1219.3,370.1 1219.3,331.8 1222.6,331.8 1222.6,316.7 1226,316.7 1226,310.9 1229.3,310.9 1229.3,300.1 1238.5,300.1 1265.2,298.4 1265.2,290.9 1273.5,290.9 1273.5,281.7 1287.7,281.7 1287.7,271.7 1300.2,271.7 1300.2,266.7 1306.9,266.7 1316.9,265 1323.6,262.5 1323.6,257.5 1333.6,257.5 1333.6,251.7 1336.9,250 1336.7,249.9 1348.4,247.6 1350.1,245.1 1373.4,245.1 1375.1,235.9 1383.4,235.9 1383.4,231.8 1398.4,231.8 1398.4,223.4 1413.5,223.4 1413.5,218.4 1416.8,218.4 1425.1,218.4 1426.8,215.1 1433.5,215.1 1435.2,207.6 1470.2,207.6 1471.9,200.1 1483.5,198.4 1493.6,198.4 1496.9,198.4 1496.9,194.2 1521.9,194.2 1521.9,185.9 1525.3,185.9 1525.3,181.7 1532.8,181.7 1532.8,177.5 1600,177.5 1633.3,177.5 1633.3,173 1755.2,173 1778.8,170.5" stroke="#FFB5B8"/>
<path d="M1067,864.1 1067,781.2 1069.5,781.2 1069.5,718.4 1072.2,718.4 1072.2,707.3 1074.5,707.3 1074.5,670 1074.5,659.1 1076.7,659.1 1076.7,642.4 1082.3,642.4 1082.3,636.9 1084.8,636.9 1084.8,612.4 1088.4,612.4 1088.4,608.5 1092.3,608.5 1092.3,575.1 1096.2,575.1 1096.2,559 1099.5,559 1099.5,521.2 1103.9,521.2 1103.9,516.2 1111.7,516.2 1111.7,504.5 1118.4,504.5 1118.4,500 1122.3,500 1122.3,486.7 1127.3,486.7 1127.3,470 1127.5,471.9 1134.2,471.9 1134.2,466.9 1140,466.9 1140,459.4 1144.2,459.4 1144.2,445.2 1157.6,445.2 1157.6,439.4 1160.9,439.4 1160.9,429.4 1168.4,429.4 1168.4,421.9 1176.8,421.9 1176.8,411.9 1185.1,411.9 1185.1,407.7 1191.8,407.7 1191.8,386.8 1195.9,386.8 1195.9,378.5 1200.1,378.5 1200.1,374.3 1204.3,374.3 1204.3,361.8 1207.6,361.8 1207.6,348.4 1223.5,348.4 1223.5,323.4 1226.8,323.4 1226.8,318.4 1230.2,318.4 1230.2,310.1 1249.3,310.1 1249.3,306.7 1261,306.7 1261,302.6 1269.4,302.6 1269.4,298.4 1279.4,298.4 1279.4,294.2 1288.6,294.2 1288.6,285 1293.6,283.4 1296.9,281.7 1341.9,281.7 1341.9,274.2 1346.1,274.2 1346.1,270 1349.5,270 1349.5,265 1357.8,265 1357.8,256.7 1373.7,256.7 1375.3,252.5 1400,252.5 1421.8,252.5 1421.8,248.4 1433.5,248.4 1433.5,245.1 1456.8,245.1 1456.8,240.9 1473.5,240.9 1473.5,235.9 1479.4,235.9 1479.4,232.6 1499.4,232.6 1499.4,224.3 1518.6,224.3 1518.6,219.2 1525.3,219.2 1525.3,215.9 1532.8,215.9 1532.8,207.6 1545.3,207.6 1545.3,202.6 1548.6,202.6 1548.6,198.4 1575.3,198.4 1580.3,198.4 1580.3,194.2 1600,194.2 1610.3,194.2 1610.3,189.5 1651.9,189.5 1651.9,185.6 1667,185.6 1667,181.3 1778.2,181.3 1778.2,170.5" stroke="#E24A33"/>
<path d="M1067,864.1 1067,859.1 1073.4,859.1 1073.4,709.5 1077.6,709.5 1077.6,680.6 1081.1,680.6 1081.1,670 1076.7,670 1076.7,659.1 1080.6,659.1 1080.6,616.8 1084.5,616.8 1084.5,600.1 1088.4,600.1 1088.4,583.5 1096.2,583.5 1096.2,575.1 1099.5,575.1 1099.5,562.3 1103.9,562.3 1103.9,546.2 1107.8,546.2 1107.8,529 1115.6,529 1115.6,508.9 1115.6,505.6 1119,505.6 1119,483.3 1122.3,483.3 1122.3,479.5 1127.3,479.5 1127.3,470 1127.5,471.1 1130.9,471.1 1130.9,466.9 1134.2,466.9 1134.2,449.4 1145.1,449.4 1145.1,406.8 1153.4,406.8 1153.4,391 1157.6,391 1157.6,382.7 1164.2,382.7 1164.2,378.5 1173.4,378.5 1173.4,374.3 1180.9,374.3 1180.9,365.1 1184.3,365.1 1184.3,353.5 1203.5,353.5 1203.5,349.3 1206.8,349.3 1206.8,336.8 1242.7,336.8 1242.7,327.6 1252.7,327.6 1252.7,322.6 1256.8,322.6 1256.8,318.4 1269.4,318.4 1269.4,315.1 1272.7,315.1 1272.7,307.6 1276,307.6 1276,285.9 1288.6,285.9 1293.6,284.2 1293.6,280 1296.9,280 1300.2,280 1300.2,275 1300.2,270 1306.9,270 1330.3,270 1330.3,257.5 1342.8,257.5 1345.3,253.3 1345.3,250 1348.6,250 1350.1,249.3 1353.4,249.3 1353.4,240.9 1372.6,240.9 1372.6,248.4 1398.4,248.4 1400.1,245.1 1417.6,245.1 1417.6,240.9 1443.5,240.9 1445.2,235.9 1475.2,235.9 1476.9,231.8 1487.7,231.8 1487.7,227.6 1495.2,227.6 1495.2,223.4 1510.2,223.4 1510.2,215.9 1559.5,215.9 1559.5,210.9 1576.2,210.9 1576.2,190 1587,190 1587,185.9 1600,185.9 1644.7,185.9 1644.7,180.9 1644.7,177.3 1648.3,177.3 1769.6,177.3 1769.6,173.9 1774.2,173.9 1778.8,173.9 1778.8,170.5" stroke="#348ABD"/>
<path d="M1066.9,864.0L1778.8,170.5" stroke="#000080" stroke-width="3.2" stroke-dasharray="14 5.6"/>
</g>
<rect x="1297.9" y="718.4" width="472.3" height="137" rx="3.5" fill="#E5E5E5" fill-opacity="0.8" stroke="#d6d6d6" stroke-width="1.1"/>
<g font-family="'DejaVu Sans', sans-serif" font-weight="bold" font-size="18.0" fill="#000">
<path d="M1304.4 732.8h37.6" stroke="#E24A33" stroke-width="2" fill="none"/>
<text x="1355.3" y="739">C4.5 DT : 0.80</text>
<path d="M1304.4 759.2h37.6" stroke="#348ABD" stroke-width="2" fill="none"/>
<text x="1355.3" y="765.5">RF : 0.85</text>
<path d="M1304.4 785.7h37.6" stroke="#988ED5" stroke-width="2" fill="none"/>
<text x="1355.3" y="791.9">KNN : 0.85</text>
<path d="M1304.4 812.1h37.6" stroke="#777777" stroke-width="2" fill="none"/>
<text x="1355.3" y="818.4">LogReg : 0.85</text>
<path d="M1304.4 838.6h37.6" stroke="#FBC15E" stroke-width="2" fill="none"/>
<text x="1355.3" y="844.8">AdaBoost : 0.86</text>
<path d="M1549.8 732.8h37.6" stroke="#8EBA42" stroke-width="2" fill="none"/>
<text x="1601.6" y="739">GBM : 0.84</text>
<path d="M1549.8 759.2h37.6" stroke="#FFB5B8" stroke-width="2" fill="none"/>
<text x="1601.6" y="765.5">LightGBM : 0.85</text>
<path d="M1549.8 785.7h37.6" stroke="#E24A33" stroke-width="2" fill="none"/>
<text x="1601.6" y="791.9">NB : 0.83</text>
<path d="M1549.8 812.1h37.6" stroke="#348ABD" stroke-width="2" fill="none"/>
<text x="1601.6" y="818.4">SVM : 0.84</text>
</g>
<g font-family="'Liberation Sans', sans-serif" font-size="33" fill="#111">
<text x="1067.6" y="900.7" text-anchor="middle">0.0</text>
<text x="1064.8" y="873.8" text-anchor="end">0.0</text>
<text x="1206.6" y="901.8" text-anchor="middle">0.2</text>
<text x="1062" y="733.6" text-anchor="end">0.2</text>
<text x="1356.3" y="900.7" text-anchor="middle">0.4</text>
<text x="1063.3" y="594.2" text-anchor="end">0.4</text>
<text x="1495.3" y="902.3" text-anchor="middle">0.6</text>
<text x="1062.2" y="453.6" text-anchor="end">0.6</text>
<text x="1635.6" y="902.3" text-anchor="middle">0.8</text>
<text x="1061.7" y="316.5" text-anchor="end">0.8</text>
<text x="1775.2" y="902.9" text-anchor="middle">1.0</text>
<text x="1056.8" y="187.7" text-anchor="end">1.0</text>
</g>
<text x="1329.8" y="963.4" font-family="'Liberation Sans', sans-serif" font-size="42" textLength="233.5" lengthAdjust="spacingAndGlyphs" fill="#000">1-Specificity</text>
<text transform="translate(983.4,561) rotate(-90)" font-family="'Liberation Sans', sans-serif" font-size="42" textLength="195.6" lengthAdjust="spacingAndGlyphs" fill="#000">Sensitivity</text>
<g font-family="'Liberation Sans', sans-serif" font-size="42" fill="#000">
<text x="1314.8" y="155.2" textLength="104.5" lengthAdjust="spacingAndGlyphs">Voice</text>
<text x="1427.8" y="155.2" textLength="158.2" lengthAdjust="spacingAndGlyphs">features</text>
</g>
<text x="893.8" y="55.3" font-family="'Liberation Sans', sans-serif" font-size="74" font-weight="bold" textLength="39.2" lengthAdjust="spacingAndGlyphs" fill="#000">b</text>
</g>
<g id="panel-c">
<g filter="url(#soft)">
<rect x="580.5" y="1242.7" width="717.5" height="687" fill="#E5E5E5"/>
<path d="M724.3 1242.7V1929.7 M868.2 1242.7V1929.7 M1012.3 1242.7V1929.7 M1156.8 1242.7V1929.7 M580.5 1793.2H1298.0 M580.5 1655.3H1298.0 M580.5 1517.2H1298.0 M580.5 1379.3H1298.0" stroke="#f1f1f1" stroke-width="2.0" fill="none"/>
<g clip-path="url(#cpc)" fill="none" stroke-linejoin="round" stroke-linecap="butt" stroke-width="2.1">
<path d="M580.6,1929.7 595.6,1885.7 646.8,1730 672.9,1646.8 676.8,1619 677.7,1596.7 677.7,1572.3 689.6,1562.3 690.1,1552.2 693.5,1542.2 697.9,1530 703.4,1505.3 713.4,1492.7 720.1,1488.6 726.8,1471.9 730.1,1460.2 743.5,1448.5 753.5,1435.2 761.8,1426.8 776.8,1414.3 783.5,1407.6 795.2,1403.5 806.9,1399.3 810.2,1390.1 815.2,1380.9 820.2,1375.9 833.6,1375.1 845.3,1374.3 853.6,1370.1 863.6,1364.3 878.6,1360.1 893.7,1359.2 902,1354.2 920,1347.6 921.7,1345.1 930,1333.5 934.2,1311.8 963.4,1311.4 1113.6,1311.8 1160.3,1304.3 1180.3,1303.4 1200,1301.8 1240,1296.9 1297.9,1243" stroke="#E24A33"/>
<path d="M580.6,1929.7 586.7,1896.9 589.5,1880.2 593.9,1871.3 595.6,1844.6 595.8,1832.3 596.7,1810.1 603.4,1794.5 603.9,1772.3 604.5,1740 605.6,1730 603.4,1730 603.4,1676.8 604.5,1655.7 608.9,1650.1 613.9,1636.8 615.1,1620.1 620.1,1614.5 623.2,1612.3 623.4,1602.3 623.9,1576.7 627.8,1571.2 635.6,1558.9 641.2,1552.2 645.6,1545.6 650.1,1537.8 650.6,1530 650.9,1528.6 653.4,1515.3 660,1505.3 670.1,1491.9 673.4,1490.2 683.4,1483.6 687.6,1480.2 688.4,1466.9 691.8,1456.9 696.8,1455.2 697.6,1445.2 703.4,1441.8 710.9,1436 720.1,1432.7 721.8,1421.8 733.5,1413.5 745.1,1403.5 753.5,1400.1 766.8,1395.1 771.8,1390.1 778.5,1377.6 793.5,1371.8 800.2,1365.1 806.9,1360.1 812.7,1359.2 814.4,1356.7 826.9,1355.1 835.3,1352.6 843.6,1345.9 853.6,1341.7 864.5,1337.6 871.1,1337.6 877,1330 887,1322.5 900.3,1318.4 910.3,1315 920,1310.4 930,1307.6 946.7,1306.8 966.7,1301.8 980.1,1300.1 1000.1,1300.1 1008.5,1292.6 1030.2,1287.6 1050.2,1281.7 1066.9,1282.1 1086.9,1281.7 1105.2,1278.4 1116.9,1275.1 1123.6,1270.9 1147,1265.9 1160.3,1261.7 1175.3,1260 1200,1259.2 1201.7,1258.6 1208.9,1254.6 1214.7,1252.4 1233.5,1252.1 1241.5,1251 1247.2,1248.1 1252.3,1247 1259.5,1247.4 1268.9,1247 1269.7,1244.8 1281.2,1244.1 1297.9,1243" stroke="#348ABD"/>
<path d="M580.6,1929.7 580.6,1918.8 583.6,1918.8 583.6,1908 586.7,1908 589.5,1908 589.5,1895.7 589.5,1883.5 592.2,1883.5 592.2,1852.4 596.7,1852.4 599.5,1852.4 599.5,1834.6 602.3,1834.6 606.7,1834.6 606.7,1819 606.7,1754.5 606.7,1733.3 611.2,1733.3 611.2,1730 611.7,1730 611.7,1703.5 614.5,1701.3 616.7,1682.4 619.5,1682.4 619.5,1675.2 625.6,1675.2 625.6,1660.1 634,1660.1 634,1653.5 645.6,1653.5 645.6,1649.6 650.1,1649.6 650.1,1645.7 650.1,1641.2 654.5,1641.2 659,1641.2 659,1634.6 661.8,1634.6 661.8,1627.9 661.8,1622.3 664.5,1622.3 666.2,1616.8 670.1,1614.5 670.1,1605.6 672.3,1593.4 672.3,1590.1 677.3,1590.1 677.3,1583.4 679.6,1574.5 681.2,1572.3 681.2,1542.2 692.4,1542.2 694.6,1537.8 707.9,1537.8 707.9,1534.4 715.7,1534.4 719.1,1534.4 719.1,1530 720.1,1528.6 720.1,1523.6 723.5,1523.6 725.1,1519.4 731,1519.4 731,1511.9 740.1,1511.9 740.1,1504.4 744.3,1504.4 744.3,1500.2 747.6,1500.2 747.6,1489.4 755.2,1489.4 755.2,1474.4 762.7,1474.4 762.7,1467.7 770.2,1467.7 770.2,1464.4 775.2,1464.4 775.2,1460.2 786,1460.2 786,1446 794.4,1446 794.4,1441.8 806.9,1441.8 806.9,1437.7 813.6,1437.7 813.6,1430.2 817.7,1430.2 817.7,1422.7 825.2,1422.7 825.2,1416 825.2,1411.8 833.6,1411.8 845.3,1411.8 845.3,1408.5 849.4,1408.5 849.4,1396.8 856.1,1396.8 856.1,1393.5 875.3,1393.5 875.3,1390.1 883.6,1390.1 883.6,1382.6 892,1382.6 892,1375.1 920,1375.1 938.4,1375.1 938.4,1371 950.1,1371 950.1,1363.5 953.4,1363.5 953.4,1356 961.7,1356 961.7,1352.6 961.7,1349.3 965.1,1349.3 969.2,1349.3 969.2,1345.1 973.4,1345.1 973.4,1341.8 988.4,1341.8 990.1,1334.3 1008.5,1334.3 1010.1,1330.1 1012.6,1330.1 1012.6,1322.6 1020.1,1320.9 1020.1,1318 1025.1,1318 1025.1,1315.1 1030.2,1315.1 1046.8,1315.1 1046.8,1305.1 1050.2,1305.1 1101.9,1303.4 1101.9,1296.7 1105.2,1296.7 1105.2,1293.4 1120.3,1293.4 1121.9,1286.7 1125.3,1286.7 1125.3,1283.4 1132.8,1283.4 1132.8,1280.1 1140.3,1280.1 1147.8,1280.1 1147.8,1275.9 1147.8,1271.7 1155.3,1271.7 1187,1271.7 1188.7,1267.5 1197,1267.5 1198.7,1263.4 1200,1263 1201.7,1263.6 1229.9,1263.6 1229.9,1259.6 1249.8,1259.6 1249.8,1256.4 1261,1256.4 1261,1250.2 1261,1247.4 1267.5,1247.4 1274,1247.4 1274,1244.5 1297.9,1244.5" stroke="#988ED5"/>
<path d="M580.6,1929.7 580.6,1841.2 580.6,1815.1 584.2,1815.1 584.2,1789 587.8,1789 587.8,1746.7 591.7,1746.7 591.7,1731.1 596.1,1731.1 596.7,1730 595.6,1730 595.6,1698 598.9,1698 598.9,1675.2 602.8,1675.2 602.8,1641.2 607.3,1641.2 607.3,1627.9 614.5,1627.9 616.7,1622.3 616.7,1615.7 623.4,1615.7 623.4,1612.3 625.6,1606.8 625.6,1594 634.5,1594 634.5,1585.6 638.4,1585.6 638.4,1571.2 638.4,1564.5 642.3,1564.5 645.6,1564.5 645.6,1560 653.4,1560 653.4,1556.7 659,1556.7 661.8,1556.7 661.8,1542.2 671.2,1542.2 671.2,1537.8 673.4,1537.8 673.4,1530 673.4,1516.1 684.2,1516.1 684.2,1483.6 687.6,1483.6 687.6,1464.4 705.1,1464.4 705.1,1456 707.6,1456 707.6,1437.7 720.1,1437.7 720.1,1433.5 723.5,1433.5 723.5,1426.8 731,1426.8 731,1423.5 743.5,1423.5 743.5,1412.6 754.3,1412.6 754.3,1401 761.8,1401 761.8,1396 766.8,1396 766.8,1378.4 777.7,1378.4 777.7,1367.6 781.9,1367.6 781.9,1360.1 785.2,1360.1 785.2,1356.7 801,1356.7 801,1345.1 805.2,1345.1 805.2,1341.7 821.1,1341.7 821.1,1338.4 836.1,1338.4 836.1,1334.2 847.8,1334.2 847.8,1330 851.9,1330 851.9,1322.5 856.1,1322.5 856.1,1319.2 860.3,1319.2 860.3,1304.2 879.5,1304.2 879.5,1300.8 892,1300.8 892,1296.7 920,1296.7 933.4,1296.7 933.4,1293.4 949.2,1293.4 949.2,1289.2 953.4,1289.2 953.4,1282.6 965.1,1282.6 965.1,1278.4 969.2,1278.4 969.2,1270.9 1116.1,1270.9 1116.1,1267.5 1121.9,1267.5 1123.6,1265.9 1147,1265.9 1147,1262.5 1162,1262.5 1175.3,1260 1200,1260 1201.7,1259.7 1235,1259.7 1235,1256 1279.8,1256 1279.8,1252.4 1282.7,1252.4 1282.7,1248.8 1282.7,1245.9 1290.3,1245.9 1290.3,1243 1297.9,1243" stroke="#777777"/>
<path d="M580.6,1929.7 580.6,1896.9 585.6,1896.9 587.8,1841.2 587.8,1806.8 587.8,1790.1 592.2,1790.1 592.2,1785.6 598.9,1785.6 598.9,1771.2 603.4,1771.2 603.4,1762.3 603.4,1752.2 607.3,1752.2 607.3,1746.7 607.3,1730 607.8,1730 607.8,1708 611.2,1708 611.2,1702.4 611.2,1696.9 614.5,1696.9 614.5,1653.5 618.9,1653.5 618.9,1601.2 622.3,1601.2 622.3,1571.7 637.9,1571.7 637.9,1567.8 653.4,1567.8 653.4,1556.7 659,1556.7 659,1541.1 662.3,1541.1 662.3,1537.8 670.7,1537.8 670.7,1531.1 674,1531.1 674.6,1530 674.6,1522.8 680.9,1522.8 680.9,1511.9 680.9,1508.6 691.8,1508.6 691.8,1497.7 695.1,1497.7 703,1497.7 703,1494.8 703,1491.9 710.9,1491.9 710.9,1475.2 710.9,1471 715.1,1471 720.1,1471 720.1,1467.7 735.1,1467.7 735.1,1461.9 743.5,1460.2 743.5,1457.7 756.8,1456 762.7,1456 762.7,1446 777.7,1446 777.7,1438.5 793.5,1438.5 793.5,1433.5 805.2,1433.5 805.2,1427.7 816.9,1427.7 818.6,1419.3 821.1,1419.3 821.1,1408.5 824.4,1408.5 824.4,1401 824.4,1396.8 830.2,1396.8 830.2,1393.5 831.9,1383.4 831.9,1380.1 840.3,1380.1 840.3,1365.9 849.4,1365.9 849.4,1363 849.4,1360.1 858.6,1360.1 872,1360.1 872,1356.3 880.3,1356.3 888.6,1356.3 888.6,1352.6 900.3,1352.6 900.3,1347.6 920,1347.6 921.7,1346 923.4,1341.8 933.4,1341.8 933.4,1327.6 940,1327.6 955.1,1327.6 955.1,1323.4 980.1,1323.4 988.4,1323.4 990.1,1315.1 1003.5,1315.1 1003.5,1304.3 1026.8,1304.3 1035.2,1302.6 1035.2,1296.7 1076.9,1296.7 1091.9,1296.7 1100.2,1296.7 1101.9,1292.6 1105.2,1292.6 1109.1,1292.6 1109.1,1289.5 1109.1,1286.5 1113,1286.5 1113,1283.4 1116.9,1283.4 1123.6,1283.4 1128.6,1283.4 1128.6,1275.1 1133.6,1273.4 1133.6,1268.4 1147,1268.4 1147,1265.5 1152.8,1265.5 1158.6,1265.5 1158.6,1262.5 1175.3,1260 1175.3,1256.3 1187.7,1256.3 1187.7,1252.5 1200,1252.5 1198.1,1253.9 1198.8,1252.1 1206.8,1252.1 1206.8,1248.1 1233.5,1248.1 1241.5,1248.1 1266.8,1248.1 1266.8,1245.2 1297.9,1243" stroke="#FBC15E"/>
<path d="M580.6,1929.7 580.6,1924.4 584.2,1924.4 584.2,1919.1 587.8,1919.1 587.8,1909.1 591.7,1909.1 591.7,1886.8 595.6,1886.8 595.6,1845.7 599.5,1845.7 599.5,1838.5 603.4,1838.5 603.4,1812.9 607.8,1812.9 607.8,1783.9 615.1,1783.9 615.1,1763.9 619.5,1763.9 619.5,1730 619.5,1694.1 622.3,1694.1 622.3,1686.8 625.6,1686.8 625.6,1671.8 630.6,1671.8 630.6,1627.9 634,1627.9 637.3,1627.9 637.3,1623.4 637.3,1612.9 646.2,1612.9 646.2,1601.2 649.5,1601.2 649.5,1592.3 649.5,1585.6 653.4,1585.6 653.4,1572.3 653.4,1567.8 657.9,1567.8 664.5,1567.8 664.5,1560.6 667.3,1560.6 670.1,1560.6 670.1,1553.4 672.9,1553.4 672.9,1542.2 676.8,1542.2 676.8,1537.8 681.2,1537.8 681.2,1530 683.4,1522.8 683.4,1516.1 683.4,1512.8 690.9,1512.8 695.9,1512.8 695.9,1493.6 708.4,1493.6 708.4,1489.4 715.1,1489.4 715.1,1475.2 723.5,1475.2 723.5,1461 726.8,1461 731,1461 731,1452.7 736.8,1450.2 743.5,1450.2 743.5,1445.2 743.5,1431 747.6,1431 747.6,1416 751.8,1413.5 751.8,1409.3 758.5,1409.3 758.5,1405.1 766,1405.1 766,1401 773.5,1401 775.2,1396.8 796.9,1396.8 803.5,1396.8 813.6,1396.8 813.6,1390.1 817.7,1390.1 817.7,1386.8 817.7,1378.4 836.9,1378.4 836.9,1375.1 844.4,1375.1 844.4,1371.8 865.3,1371.8 865.3,1366.8 887.8,1366.8 887.8,1353.4 887.8,1349.7 893.2,1349.7 893.2,1345.9 898.7,1345.9 913.7,1345.9 913.7,1337.6 918.7,1337.6 918.7,1331.7 920,1330.1 940.9,1330.1 940.9,1326.8 953.4,1326.8 953.4,1320.1 968.4,1320.1 970.1,1315.9 981.8,1315.9 981.8,1311.8 1011.8,1311.8 1023.5,1311.8 1023.5,1304.3 1048.5,1304.3 1050.2,1300.9 1073.5,1300.9 1077.7,1300.9 1077.7,1297.2 1077.7,1293.4 1081.9,1293.4 1081.9,1289.2 1089.4,1289.2 1089.4,1285.1 1125.3,1285.1 1129.4,1285.1 1129.4,1279.2 1152.8,1279.2 1154.5,1275.1 1200,1275.1 1209.6,1275.1 1209.6,1272 1224.1,1272 1224.1,1268.9 1238.6,1268.9 1253,1268.9 1253,1265.8 1253,1263.6 1265.7,1263.6 1265.7,1260.4 1284.1,1260.4 1284.1,1256.8 1297.1,1256.8 1297.1,1248.1 1297.1,1243" stroke="#8EBA42"/>
<path d="M580.6,1929.7 580.6,1908 585.6,1908 585.6,1842.3 588.4,1842.3 591.7,1842.3 591.7,1830.7 595.6,1830.7 595.6,1794.5 598.9,1794.5 598.9,1781.2 598.9,1730 599.5,1730 599.5,1705.8 603.4,1705.8 607.3,1705.8 607.3,1698 614.5,1698 614.5,1668.5 618.9,1668.5 618.9,1662.4 618.9,1657.9 622.3,1657.9 625.6,1657.9 625.6,1653.5 625.6,1608.4 633.4,1608.4 637.9,1608.4 637.9,1595.6 641.2,1595.6 641.2,1571.2 650.1,1571.2 650.1,1565.6 650.1,1562.8 653.4,1562.8 653.4,1560 656.8,1560 656.8,1537.8 661.8,1537.8 661.8,1530 661.8,1516.1 665.1,1516.1 665.1,1512.8 672.6,1512.8 672.6,1490.2 672.6,1486.9 678,1486.9 678,1483.6 683.4,1483.6 683.4,1467.7 693.4,1467.7 693.4,1461 700.1,1461 700.1,1443.5 704.3,1443.5 704.3,1434.3 713.4,1434.3 713.4,1430.2 720.1,1430.2 720.1,1423.5 736.8,1423.5 736.8,1419.3 736.8,1414.3 743.5,1414.3 743.5,1404.3 754.3,1404.3 754.3,1391 761.8,1389.3 781,1389.3 781,1385.9 785.2,1385.9 789.4,1385.9 789.4,1382.6 803.5,1380.9 803.5,1375.9 813.6,1375.9 821.9,1375.9 821.9,1370.9 826.9,1370.9 833.6,1370.9 833.6,1367.6 833.6,1362.6 838.6,1362.6 838.6,1359.7 845.3,1359.7 851.9,1359.7 851.9,1356.7 859.4,1356.7 859.4,1348.4 870.3,1348.4 870.3,1345.1 873.6,1345.1 873.6,1341.7 877,1341.7 902,1340.1 903.7,1330 920,1330 926.7,1330 926.7,1325.9 933.4,1325.9 933.4,1315.1 965.1,1315.1 965.1,1311.8 980.1,1311.8 980.1,1308.4 1026.8,1308.4 1028.5,1304.3 1046.8,1304.3 1046.8,1300.9 1056.8,1300.9 1056.8,1289.2 1073.5,1289.2 1073.5,1285.9 1105.2,1285.9 1105.2,1278.4 1115.3,1278.4 1116.9,1271.7 1125.3,1271.7 1128.6,1271.7 1128.6,1264.2 1155.3,1264.2 1157,1260 1167,1260 1168.6,1255.9 1200,1255.9 1201.7,1256.8 1224.8,1256.8 1225.6,1255.3 1233.5,1255.3 1233.5,1250.2 1237.1,1250.2 1237.1,1245.2 1265.3,1245.2 1265.3,1243.2 1297.9,1243.2" stroke="#FFB5B8"/>
<path d="M580.6,1929.7 580.6,1896.9 583.3,1896.9 583.3,1801.2 586.7,1801.2 586.7,1795.6 591.1,1795.6 591.1,1753.4 595.6,1753.4 595.6,1742.2 598.9,1742.2 598.9,1738.3 603.9,1738.3 603.9,1730 603.9,1724.1 614.5,1724.1 614.5,1712.4 634,1712.4 634,1708 637.9,1708 637.9,1694.1 642.3,1694.1 642.3,1690.2 646.2,1690.2 646.2,1660.1 650.1,1660.1 650.1,1652.9 653.4,1652.9 653.4,1645.7 657.9,1645.7 657.9,1627.9 661.8,1627.9 661.8,1604 669.6,1604 669.6,1586.7 673.4,1586.7 673.4,1582.8 677.3,1582.8 677.3,1572.3 689.6,1572.3 689.6,1553.9 693.5,1553.9 693.5,1541.1 696.8,1541.1 696.8,1531.1 705.2,1531.1 705.7,1530 705.7,1526.1 705.7,1521.9 709.3,1521.9 712.6,1521.9 712.6,1516.9 712.6,1513.6 716.8,1513.6 716.8,1510.3 720.1,1510.3 720.1,1506.1 723.5,1506.1 723.5,1501.9 730.1,1500.2 730.1,1496.9 733.5,1496.9 736,1492.7 736,1489.4 747.6,1489.4 747.6,1471 751.8,1471 751.8,1441.8 770.2,1441.8 771.8,1433.5 778.5,1433.5 778.5,1430.2 793.5,1430.2 793.5,1426.8 801,1426.8 801,1423.5 808.6,1423.5 808.6,1419.3 825.2,1419.3 825.2,1413.5 832.7,1413.5 832.7,1385.9 841.1,1385.9 841.1,1380.9 845.3,1380.9 845.3,1377.6 870.3,1377.6 872,1374.3 883.6,1371.8 883.6,1368.4 893.7,1368.4 910.3,1366.8 910.3,1360.1 920,1360.1 920,1359.8 934.2,1359.8 934.2,1345.1 940.9,1345.1 940.9,1334.3 957.6,1334.3 957.6,1331 960.9,1331 960.9,1326.8 992.6,1326.8 992.6,1315.9 1028.5,1315.9 1030.2,1314.3 1050.2,1314.3 1051.8,1303.4 1056.8,1303.4 1056.8,1300.1 1059.4,1296.7 1066.9,1296.7 1066.9,1293.4 1083.5,1293.4 1083.5,1289.2 1086.9,1289.2 1125.3,1289.2 1125.3,1282.6 1129.4,1282.6 1200,1282.6 1210.4,1282.6 1210.4,1275.2 1237.8,1275.2 1237.8,1271.6 1249.8,1271.6 1249.8,1266.9 1257.4,1266.9 1257.4,1260 1279.8,1260 1284.1,1260 1284.1,1255.3 1284.1,1248.8 1289.9,1248.8 1289.9,1245.9 1293.9,1245.9 1293.9,1243 1297.9,1243" stroke="#E24A33"/>
<path d="M580.6,1929.7 582.2,1816.8 583.9,1816.2 583.9,1805.6 587.8,1805.6 587.8,1797.9 591.7,1797.9 591.7,1793.4 595.6,1793.4 595.6,1779.5 599.5,1779.5 599.5,1760 603.4,1760 603.4,1744.5 607.3,1744.5 607.3,1730 607.3,1712.4 611.2,1712.4 611.2,1660.1 618.9,1660.1 618.9,1653.5 622.3,1653.5 622.3,1646.8 625.6,1644.6 625.6,1641.2 630.1,1641.2 630.1,1637.9 634.5,1637.9 634.5,1609 634.5,1605.6 638.4,1605.6 646.8,1605.6 650.1,1603.4 650.1,1594 653.4,1594 653.4,1578.9 657.9,1578.9 657.9,1574.5 661.8,1574.5 661.8,1563.4 661.8,1560.6 665.9,1560.6 665.9,1557.8 670.1,1557.8 673.4,1555.6 673.4,1549.5 685.7,1549.5 685.7,1535 692.4,1535 692.4,1530 695.1,1530 695.1,1522.8 704.3,1522.8 704.3,1505.3 704.3,1500.2 712.6,1500.2 712.6,1496.9 720.1,1496.9 720.1,1485.2 720.1,1479.4 723.5,1479.4 728.5,1479.4 728.5,1463.5 733.5,1463.5 733.5,1460.2 733.5,1456.9 743.5,1456.9 751.8,1456.9 751.8,1436.8 751.8,1427.7 755.2,1427.7 778.5,1427.7 778.5,1408.5 782.7,1408.5 782.7,1401 782.7,1396.8 786.9,1396.8 797.7,1396.8 797.7,1390.1 805.2,1390.1 805.2,1385.9 828.6,1385.9 830.2,1380.9 840.3,1380.9 840.3,1377.6 851.9,1377.6 851.9,1363.4 851.9,1357.6 856.1,1357.6 871.1,1357.6 871.1,1352.6 887,1352.6 888.6,1348.4 920,1348.4 920,1348.8 937.5,1348.8 937.5,1334.3 948.4,1334.3 948.4,1330.1 969.2,1330.1 969.2,1325.9 985.1,1325.9 990.1,1325.9 990.1,1318.4 1031.8,1318.4 1033.5,1315.1 1051,1315.1 1051,1311.8 1056.8,1311.8 1056.8,1303.4 1075.2,1303.4 1075.2,1296.7 1078.5,1296.7 1090.2,1296.7 1090.2,1285.9 1094.4,1285.9 1125.3,1285.9 1125.3,1270.9 1152,1270.9 1153.6,1265 1178.7,1265 1180.3,1260.9 1200,1260.9 1201.7,1258.9 1226.3,1258.9 1226.3,1256 1234.2,1256 1234.2,1251.7 1237.8,1251.7 1237.8,1247.4 1252.3,1247.4 1268.9,1247.4 1268.9,1245.2 1292.8,1245.2 1297.9,1243" stroke="#348ABD"/>
<path d="M580.5,1929.7L1298.0,1242.7" stroke="#000080" stroke-width="3.4" stroke-dasharray="13.8 5.8"/>
</g>
<rect x="815.6" y="1786.5" width="474.5" height="136.1" rx="3.5" fill="#E5E5E5" fill-opacity="0.8" stroke="#d6d6d6" stroke-width="1.1"/>
<g font-family="'DejaVu Sans', sans-serif" font-weight="bold" font-size="18.15" fill="#000">
<path d="M821.3 1800.1h38.3" stroke="#E24A33" stroke-width="2.1" fill="none"/>
<text x="873.1" y="1806.3">C4.5 DT : 0.76</text>
<path d="M821.3 1826.3h38.3" stroke="#348ABD" stroke-width="2.1" fill="none"/>
<text x="873.1" y="1832.5">RF : 0.83</text>
<path d="M821.3 1852.6h38.3" stroke="#988ED5" stroke-width="2.1" fill="none"/>
<text x="873.1" y="1858.8">KNN : 0.76</text>
<path d="M821.3 1878.8h38.3" stroke="#777777" stroke-width="2.1" fill="none"/>
<text x="873.1" y="1885">LogReg : 0.84</text>
<path d="M821.3 1905.1h38.3" stroke="#FBC15E" stroke-width="2.1" fill="none"/>
<text x="873.1" y="1911.3">AdaBoost : 0.80</text>
<path d="M1069.5 1800.1h38.3" stroke="#8EBA42" stroke-width="2.1" fill="none"/>
<text x="1120.8" y="1806.3">GBM : 0.79</text>
<path d="M1069.5 1826.3h38.3" stroke="#FFB5B8" stroke-width="2.1" fill="none"/>
<text x="1120.8" y="1832.5">LightGBM : 0.82</text>
<path d="M1069.5 1852.6h38.3" stroke="#E24A33" stroke-width="2.1" fill="none"/>
<text x="1120.8" y="1858.8">NB : 0.77</text>
<path d="M1069.5 1878.8h38.3" stroke="#348ABD" stroke-width="2.1" fill="none"/>
<text x="1120.8" y="1885">SVM : 0.80</text>
</g>
<g font-family="'Liberation Sans', sans-serif" font-size="32.5" fill="#111">
<text x="580.8" y="1961.2" text-anchor="middle">0.0</text>
<text x="576.9" y="1933.7" text-anchor="end">0.0</text>
<text x="720.2" y="1962.7" text-anchor="middle">0.2</text>
<text x="574.9" y="1798.4" text-anchor="end">0.2</text>
<text x="870.2" y="1961.8" text-anchor="middle">0.4</text>
<text x="576.4" y="1659.9" text-anchor="end">0.4</text>
<text x="1008.8" y="1962.7" text-anchor="middle">0.6</text>
<text x="576.3" y="1520.4" text-anchor="end">0.6</text>
<text x="1150.3" y="1962.7" text-anchor="middle">0.8</text>
<text x="575.4" y="1386.7" text-anchor="end">0.8</text>
<text x="1289" y="1963.4" text-anchor="middle">1.0</text>
<text x="570.8" y="1260.5" text-anchor="end">1.0</text>
</g>
<text x="843.4" y="2023" font-family="'Liberation Sans', sans-serif" font-size="42" textLength="234.4" lengthAdjust="spacingAndGlyphs" fill="#000">1-Specificity</text>
<text transform="translate(496.8,1631) rotate(-90)" font-family="'Liberation Sans', sans-serif" font-size="42" textLength="197.2" lengthAdjust="spacingAndGlyphs" fill="#000">Sensitivity</text>
</g>
<g font-family="'Liberation Sans', sans-serif" font-size="42" fill="#000">
<text x="593" y="1207.7" textLength="189.7" lengthAdjust="spacingAndGlyphs">Combined</text>
<text x="796.1" y="1207.7" textLength="114.1" lengthAdjust="spacingAndGlyphs">(Facial</text>
<text x="923.9" y="1207.7" textLength="24.6" lengthAdjust="spacingAndGlyphs">+</text>
<text x="956.3" y="1207.7" textLength="102.2" lengthAdjust="spacingAndGlyphs">Voice</text>
<text x="1070.7" y="1207.7" textLength="165.5" lengthAdjust="spacingAndGlyphs">features)</text>
</g>
<text x="320.9" y="1177.3" font-family="'Liberation Sans', sans-serif" font-size="74" font-weight="bold" textLength="35.6" lengthAdjust="spacingAndGlyphs" fill="#000">c</text>
</g>
</svg>
</body></html>
